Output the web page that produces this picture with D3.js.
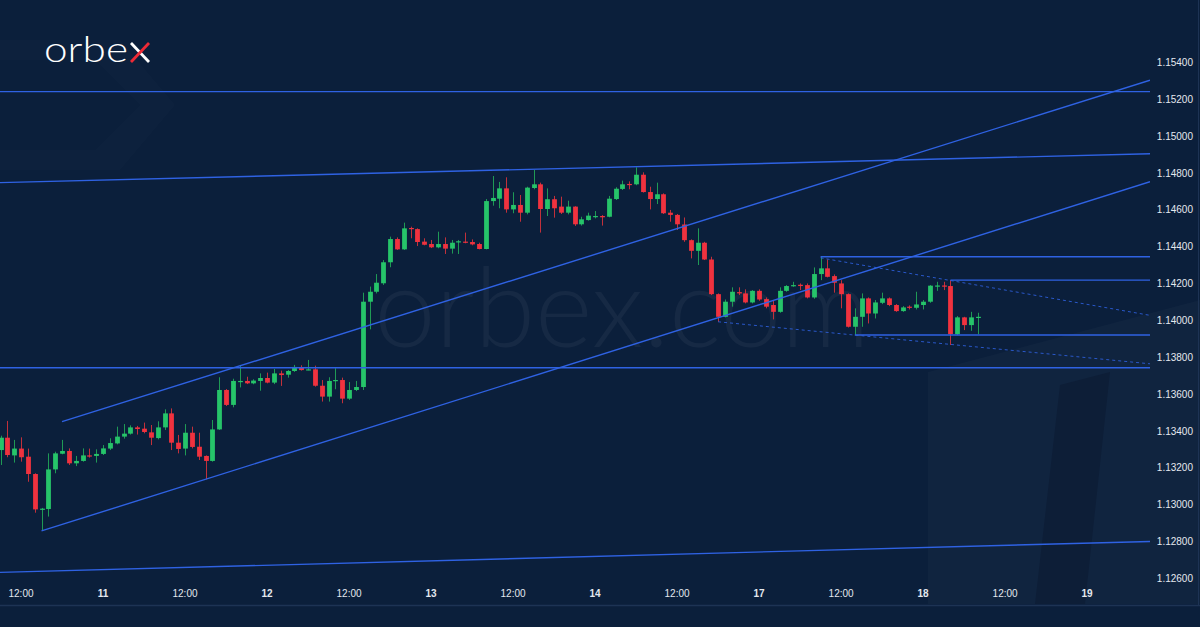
<!DOCTYPE html>
<html><head><meta charset="utf-8">
<script src="https://cdn.jsdelivr.net/npm/d3@7"></script>
<style>html,body{margin:0;padding:0;background:#0b1f3b;overflow:hidden} svg{display:block}</style>
</head><body><svg id="chart" width="1200" height="627"></svg>
<script>
// ---- data (hourly candles, EUR/USD-like) ----
const opens = [1.13297,1.13364,1.13268,1.13305,1.13261,1.13167,1.12975,1.12977,1.13192,1.13277,1.13292,1.13225,1.13238,1.13268,1.13265,1.13276,1.13305,1.13333,1.13370,1.13386,1.13420,1.13413,1.13393,1.13362,1.13420,1.13496,1.13337,1.13305,1.13391,1.13315,1.13265,1.13238,1.13409,1.13623,1.13542,1.13668,1.13672,1.13659,1.13672,1.13688,1.13663,1.13713,1.13706,1.13726,1.13746,1.13731,1.13735,1.13646,1.13587,1.13672,1.13677,1.13576,1.13623,1.13639,1.14102,1.14156,1.14202,1.14316,1.14442,1.14386,1.14502,1.14496,1.14428,1.14415,1.14397,1.14415,1.14390,1.14426,1.14428,1.14426,1.14415,1.14388,1.14648,1.14661,1.14717,1.14603,1.14627,1.14585,1.14719,1.14739,1.14605,1.14658,1.14618,1.14585,1.14618,1.14522,1.14545,1.14563,1.14567,1.14563,1.14659,1.14714,1.14741,1.14739,1.14791,1.14697,1.14659,1.14685,1.14585,1.14573,1.14521,1.14436,1.14378,1.14422,1.14331,1.14143,1.14020,1.14102,1.14154,1.14147,1.14098,1.14161,1.14116,1.14084,1.14047,1.14161,1.14187,1.14194,1.14192,1.14125,1.14252,1.14283,1.14241,1.14201,1.14143,1.13966,1.14020,1.14120,1.14038,1.14096,1.14120,1.14084,1.14051,1.14075,1.14069,1.14084,1.14102,1.14187,1.14190,1.14187,1.13926,1.14017,1.13975,1.14017];
const highs = [1.13375,1.13455,1.13352,1.13366,1.13305,1.13171,1.12983,1.13279,1.13288,1.13352,1.13306,1.13265,1.13306,1.13305,1.13301,1.13324,1.13361,1.13424,1.13438,1.13431,1.13428,1.13446,1.13433,1.13453,1.13518,1.13523,1.13379,1.13438,1.13424,1.13391,1.13268,1.13460,1.13692,1.13628,1.13684,1.13757,1.13695,1.13681,1.13713,1.13717,1.13737,1.13728,1.13731,1.13759,1.13757,1.13786,1.13755,1.13677,1.13692,1.13741,1.13690,1.13666,1.13672,1.14151,1.14184,1.14252,1.14328,1.14455,1.14451,1.14531,1.14509,1.14500,1.14446,1.14437,1.14482,1.14451,1.14437,1.14437,1.14477,1.14440,1.14422,1.14659,1.14784,1.14752,1.14777,1.14696,1.14681,1.14726,1.14817,1.14748,1.14717,1.14676,1.14672,1.14650,1.14620,1.14563,1.14585,1.14594,1.14572,1.14676,1.14723,1.14759,1.14755,1.14831,1.14804,1.14726,1.14748,1.14690,1.14600,1.14578,1.14559,1.14440,1.14500,1.14427,1.14346,1.14147,1.14114,1.14180,1.14180,1.14169,1.14165,1.14169,1.14125,1.14111,1.14180,1.14192,1.14210,1.14201,1.14201,1.14288,1.14346,1.14331,1.14250,1.14219,1.14147,1.14066,1.14147,1.14125,1.14111,1.14151,1.14125,1.14089,1.14078,1.14082,1.14156,1.14111,1.14192,1.14210,1.14210,1.14219,1.14024,1.14020,1.14047,1.14042];
const lows = [1.13216,1.13258,1.13229,1.13234,1.13125,1.12957,1.12858,1.12936,1.13171,1.13274,1.13216,1.13210,1.13234,1.13256,1.13229,1.13270,1.13297,1.13328,1.13359,1.13381,1.13381,1.13388,1.13324,1.13355,1.13406,1.13297,1.13279,1.13268,1.13306,1.13243,1.13138,1.13234,1.13406,1.13536,1.13529,1.13637,1.13655,1.13654,1.13619,1.13659,1.13655,1.13645,1.13690,1.13721,1.13728,1.13730,1.13641,1.13560,1.13560,1.13627,1.13551,1.13569,1.13617,1.13623,1.13952,1.14147,1.14193,1.14289,1.14383,1.14383,1.14446,1.14404,1.14408,1.14393,1.14392,1.14361,1.14363,1.14361,1.14419,1.14408,1.14386,1.14386,1.14623,1.14609,1.14585,1.14582,1.14536,1.14576,1.14712,1.14477,1.14567,1.14558,1.14578,1.14576,1.14513,1.14515,1.14542,1.14554,1.14515,1.14560,1.14654,1.14708,1.14712,1.14734,1.14694,1.14603,1.14632,1.14578,1.14536,1.14491,1.14427,1.14337,1.14301,1.14328,1.14138,1.13993,1.14017,1.14075,1.14138,1.14093,1.14093,1.14107,1.14066,1.14006,1.14042,1.14156,1.14183,1.14165,1.14120,1.14118,1.14219,1.14234,1.14151,1.14066,1.13962,1.13921,1.13966,1.13984,1.14011,1.14089,1.14078,1.14047,1.14047,1.14060,1.14060,1.14060,1.14096,1.14161,1.14165,1.13867,1.13921,1.13948,1.13944,1.13926];
const closes = [1.13364,1.13270,1.13305,1.13258,1.13167,1.12975,1.12979,1.13192,1.13279,1.13292,1.13225,1.13238,1.13268,1.13265,1.13276,1.13306,1.13335,1.13370,1.13386,1.13420,1.13411,1.13395,1.13364,1.13420,1.13496,1.13337,1.13303,1.13391,1.13314,1.13261,1.13238,1.13409,1.13623,1.13542,1.13672,1.13672,1.13659,1.13674,1.13688,1.13663,1.13713,1.13704,1.13726,1.13748,1.13731,1.13735,1.13646,1.13587,1.13672,1.13677,1.13576,1.13623,1.13639,1.14102,1.14156,1.14205,1.14316,1.14442,1.14386,1.14500,1.14498,1.14426,1.14411,1.14397,1.14415,1.14390,1.14422,1.14430,1.14426,1.14413,1.14388,1.14648,1.14665,1.14717,1.14603,1.14627,1.14585,1.14721,1.14739,1.14605,1.14658,1.14609,1.14585,1.14618,1.14522,1.14549,1.14569,1.14567,1.14560,1.14661,1.14715,1.14739,1.14735,1.14791,1.14697,1.14659,1.14685,1.14582,1.14573,1.14522,1.14436,1.14378,1.14422,1.14331,1.14143,1.14020,1.14102,1.14156,1.14147,1.14098,1.14161,1.14114,1.14075,1.14047,1.14161,1.14187,1.14192,1.14187,1.14125,1.14252,1.14283,1.14237,1.14205,1.14143,1.13966,1.14020,1.14120,1.14038,1.14098,1.14120,1.14084,1.14051,1.14071,1.14069,1.14087,1.14102,1.14189,1.14190,1.14187,1.13926,1.14017,1.13975,1.14017,1.14020];

// price axis ticks
const priceTicks = [1.126,1.128,1.130,1.132,1.134,1.136,1.138,1.140,1.142,1.144,1.146,1.148,1.150,1.152,1.154];
// time axis: bar index of each tick and its label
const timeTickIndex = [3,15,27,39,51,63,75,87,99,111,123,135,147,159];
const timeTickLabel = ["12:00","11","12:00","12","12:00","13","12:00","14","12:00","17","12:00","18","12:00","19"];
// drawn trend / level lines: [startBar, startPrice, endBar, endPrice]
const solidLines = [
  [-2, 1.15242, 170, 1.15242],
  [-0.07, 1.14748, 168.2, 1.14905],
  [9, 1.13451, 168.2, 1.15304],
  [6, 1.12858, 168.2, 1.14753],
  [-2, 1.13744, 170, 1.13744],
  [-0.07, 1.12633, 168.2, 1.12801],
  [120, 1.14346, 170, 1.14346],
  [139, 1.14219, 170, 1.14219],
  [125, 1.13921, 170, 1.13921]
];
const dashedLines = [
  [120, 1.14340, 168.2, 1.14028],
  [105, 1.13993, 168.2, 1.13765]
];

// ---- drawing ----
const W = 1200, H = 627;
const plotR = 1150;
const svg = d3.select("#chart");
const x = d3.scaleLinear().domain([0, 168.2]).range([0.5, plotR]);
const y = d3.scaleLinear().domain([1.126, 1.154]).range([578.5, 62.5]);

const defs = svg.append("defs");
defs.append("clipPath").attr("id","plotclip").append("rect").attr("x",0).attr("y",0).attr("width",plotR).attr("height",604);

// background
svg.append("rect").attr("width",W).attr("height",H).attr("fill","#0b1f3b");
const deco = svg.append("g").attr("class","deco");
// faint decorative shapes
deco.append("path").attr("d","M0,40 L120,40 L175,105 L120,170 L0,170 Z").attr("fill","#ffffff").attr("opacity",0.012);
deco.append("path").attr("d","M0,60 L95,60 L140,105 L95,150 L0,150 Z").attr("fill","#0b1f3b").attr("opacity",0.8);
deco.append("path").attr("d","M928,604 L928,372 L1200,300 L1200,604 Z").attr("fill","#ffffff").attr("opacity",0.022);
deco.append("path").attr("d","M1035,604 L1060,385 L1110,372 L1085,604 Z").attr("fill","#000814").attr("opacity",0.18);
// watermark
svg.append("text").attr("x",622).attr("y",347).attr("text-anchor","middle")
  .attr("font-family","Lato, 'Open Sans', sans-serif").attr("font-weight",300)
  .attr("font-size",110).attr("fill","#ffffff").attr("opacity",0.045)
  .text("orbex.com");

// bottom separator and right border
svg.append("line").attr("x1",0).attr("x2",W).attr("y1",605.5).attr("y2",605.5).attr("stroke","#1d3354").attr("stroke-width",1.5);
svg.append("line").attr("x1",1198.5).attr("x2",1198.5).attr("y1",0).attr("y2",605).attr("stroke","#1d3354").attr("stroke-width",1);

// price labels
svg.append("g").selectAll("text").data(priceTicks).join("text")
  .attr("x",1193).attr("y",d=>y(d)).attr("dy","0.35em").attr("text-anchor","end")
  .attr("font-family","'Liberation Sans', Arial, sans-serif").attr("font-size",10)
  .attr("fill","#e4e8ef").text(d=>d3.format(".5f")(d));

// time labels
svg.append("g").selectAll("text").data(timeTickIndex).join("text")
  .attr("x",d=>x(d)).attr("y",597).attr("text-anchor","middle")
  .attr("font-family","'Liberation Sans', Arial, sans-serif").attr("font-size",10)
  .attr("font-weight",(d,i)=>timeTickLabel[i].includes(":")?400:700)
  .attr("fill","#e4e8ef").text((d,i)=>timeTickLabel[i]);

const plot = svg.append("g").attr("clip-path","url(#plotclip)");

// candles
const candles = d3.range(opens.length).map(i=>({i,o:opens[i],h:highs[i],l:lows[i],c:closes[i]}));
const up = "#26c46a", down = "#f0323f";
const g = plot.append("g");
g.selectAll("line.wick").data(candles).join("line").attr("class","wick")
  .attr("x1",d=>Math.round(x(d.i))+0.5).attr("x2",d=>Math.round(x(d.i))+0.5)
  .attr("y1",d=>y(d.h)).attr("y2",d=>y(d.l))
  .attr("stroke",d=>d.c>=d.o?"#1f9a55":"#c2303b").attr("stroke-width",1);
const bw = 4.8;
g.selectAll("rect.body").data(candles).join("rect").attr("class","body")
  .attr("x",d=>Math.round(x(d.i))+0.5-bw/2).attr("width",bw)
  .attr("y",d=>y(Math.max(d.o,d.c)))
  .attr("height",d=>Math.max(1.2, Math.abs(y(d.o)-y(d.c))))
  .attr("fill",d=>d.c>=d.o?up:down);

// lines
const lineCol = "#2f62e3";
plot.append("g").selectAll("line").data(solidLines).join("line")
  .attr("x1",d=>x(d[0])).attr("y1",d=>y(d[1])).attr("x2",d=>x(d[2])).attr("y2",d=>y(d[3]))
  .attr("stroke",lineCol).attr("stroke-width",1.4);
plot.append("g").selectAll("line").data(dashedLines).join("line")
  .attr("x1",d=>x(d[0])).attr("y1",d=>y(d[1])).attr("x2",d=>x(d[2])).attr("y2",d=>y(d[3]))
  .attr("stroke",lineCol).attr("stroke-width",1).attr("stroke-dasharray","3,3").attr("opacity",0.85);

// logo
const logo = svg.append("g");
logo.append("text").attr("x",44).attr("y",62).attr("font-family","Lato, 'Open Sans', sans-serif")
  .attr("font-size",35).attr("font-weight",300).attr("fill","#ffffff")
  .attr("textLength",84).attr("lengthAdjust","spacingAndGlyphs").text("orbe");
logo.append("line").attr("x1",131).attr("y1",43).attr("x2",149).attr("y2",62).attr("stroke","#ffffff").attr("stroke-width",2.8);
logo.append("line").attr("x1",131).attr("y1",62).attr("x2",149).attr("y2",43).attr("stroke","#ee2a36").attr("stroke-width",2.8);
</script>
</body></html>
